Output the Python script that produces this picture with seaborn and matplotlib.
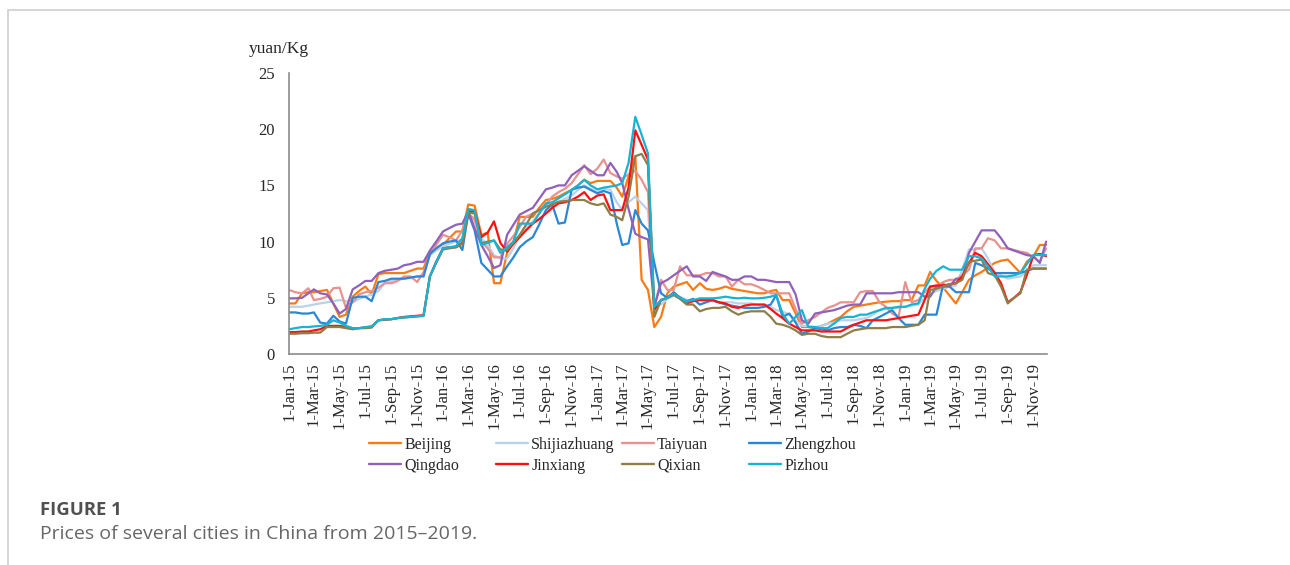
import datetime as dt
import matplotlib
matplotlib.use("Agg")
import matplotlib.pyplot as plt
from matplotlib.lines import Line2D
from matplotlib.patches import Rectangle
import seaborn as sns
import pandas as pd

# ---------------- data (semi-monthly readings: 1st and 16th of each month) ----------------
cities = ["Beijing", "Shijiazhuang", "Taiyuan", "Zhengzhou",
          "Qingdao", "Jinxiang", "Qixian", "Pizhou"]
colors = ["#FA7A14", "#B9D2EC", "#E8928F", "#2B87D6",
          "#9061BC", "#FF1010", "#8E7E48", "#16B4D4"]

beijing = [
    4.5,4.5, 5.4,5.5, 5.5,5.6, 5.7,4.5, 3.3,3.5, 5.1,5.6, 6.0,5.3, 7.1,7.2, 7.2,7.2, 7.2,7.4, 7.6,7.6, 9.1,9.4,
    9.7,10.3, 10.9,10.9, 13.3,13.2, 10.6,10.8, 6.3,6.3, 9.0,10.0, 12.2,12.2, 12.2,13.0, 13.7,13.8, 14.0,14.3, 14.6,15.0, 15.5,15.2,
    15.4,15.4, 15.4,14.8, 14.0,15.8, 17.6,6.6, 5.7,2.4, 3.3,5.4, 6.0,6.2, 6.4,5.7, 6.3,5.8, 5.7,5.8, 6.0,5.8, 5.7,5.6,
    5.5,5.4, 5.4,5.6, 5.7,4.8, 4.8,3.6, 2.4,2.4, 2.3,2.5, 2.7,3.0, 3.3,3.8, 4.2,4.3, 4.4,4.5, 4.6,4.65, 4.7,4.7,
    4.8,4.8, 6.1,6.1, 7.3,6.5, 5.9,5.2, 4.5,5.5, 6.6,7.0, 7.3,7.7, 8.1,8.3, 8.4,7.8, 7.2,8.2, 8.7,9.7, 9.7]
shijiazhuang = [
    4.2,4.2, 4.2,4.3, 4.4,4.5, 4.6,4.7, 4.8,4.7, 4.6,4.9, 5.1,5.3, 5.6,6.3, 6.5,6.6, 6.7,6.8, 6.9,7.0, 8.8,9.2,
    9.6,9.8, 10.0,10.2, 12.3,11.8, 10.3,9.7, 8.8,8.5, 8.5,9.4, 10.5,11.2, 11.8,12.5, 13.2,13.4, 13.5,13.8, 14.1,14.6, 15.0,14.7,
    14.4,14.7, 14.6,13.5, 12.8,13.5, 14.0,13.4, 12.8,4.5, 4.4,4.9, 5.2,5.1, 4.8,4.8, 4.8,4.7, 4.7,4.6, 4.6,4.6, 4.5,4.5,
    4.5,4.4, 4.4,4.2, 3.9,3.8, 3.5,3.0, 2.5,2.5, 2.4,2.5, 2.7,2.8, 3.0,3.0, 3.0,3.1, 3.2,3.5, 3.9,4.0, 4.1,4.1,
    4.2,4.3, 4.4,5.0, 5.4,5.6, 5.8,6.0, 6.1,7.5, 9.3,9.3, 9.4,8.5, 7.3,7.0, 6.7,6.8, 6.9,7.3, 7.9,7.9, 7.9]
taiyuan = [
    5.7,5.5, 5.4,5.85, 4.8,4.9, 5.1,5.85, 5.9,4.1, 4.6,5.3, 5.5,5.6, 5.9,6.3, 6.3,6.5, 6.9,6.9, 6.4,7.3, 8.8,9.7,
    10.6,10.4, 10.1,11.0, 12.5,12.0, 10.0,9.4, 8.6,8.6, 9.8,10.5, 11.3,12.2, 12.5,12.8, 13.3,14.0, 14.4,14.7, 15.2,16.0, 16.8,16.0,
    16.5,17.3, 16.1,15.8, 15.6,16.0, 16.3,15.5, 14.4,4.2, 6.6,5.7, 5.7,7.8, 7.0,7.0, 7.0,7.2, 7.2,6.9, 6.9,6.0, 6.6,6.2,
    6.2,6.0, 5.7,5.4, 5.4,5.4, 5.4,4.0, 2.7,3.0, 3.3,3.7, 4.1,4.3, 4.6,4.6, 4.6,5.5, 5.6,5.6, 4.6,4.2, 3.6,3.3,
    6.4,4.6, 4.8,5.5, 6.0,6.0, 6.4,6.6, 6.6,7.0, 7.5,9.4, 9.4,10.3, 10.1,9.4, 9.4,9.25, 9.1,9.0, 8.6,8.2, 9.4]
zhengzhou = [
    3.7,3.7, 3.6,3.6, 3.7,2.8, 2.7,3.4, 2.9,2.7, 5.0,5.1, 5.1,4.7, 6.4,6.5, 6.7,6.7, 6.7,6.8, 6.9,6.9, 8.9,9.4,
    9.85,10.0, 10.1,9.25, 12.5,11.0, 8.1,7.5, 6.9,6.9, 7.8,8.6, 9.5,10.0, 10.4,11.5, 12.8,13.3, 11.6,11.7, 14.6,14.8, 14.9,14.6,
    14.3,14.5, 14.3,11.6, 9.7,9.85, 12.8,11.6, 11.0,8.1, 5.4,5.0, 5.5,5.0, 4.7,4.9, 4.4,4.6, 4.8,4.6, 4.4,4.3, 4.2,4.1,
    4.1,4.1, 4.2,4.4, 5.25,3.3, 3.6,2.8, 1.8,2.0, 2.3,2.2, 2.1,2.3, 2.4,2.4, 2.6,2.5, 2.3,3.0, 3.3,3.6, 3.9,3.2,
    2.6,2.6, 2.6,3.5, 3.5,3.5, 6.2,6.0, 5.5,5.5, 5.5,8.1, 7.9,7.6, 7.2,7.2, 7.2,7.2, 7.2,7.4, 7.6,7.6, 7.6]
qingdao = [
    4.95,4.95, 5.0,5.4, 5.75,5.4, 5.3,4.5, 3.6,4.0, 5.75,6.1, 6.5,6.5, 7.2,7.4, 7.5,7.6, 7.9,8.0, 8.2,8.2, 9.2,10.0,
    10.9,11.2, 11.5,11.6, 12.7,11.2, 9.7,8.7, 7.65,7.9, 10.6,11.5, 12.4,12.7, 13.0,13.8, 14.65,14.8, 15.0,15.0, 15.9,16.3, 16.7,16.3,
    15.9,15.9, 17.0,16.2, 15.2,12.9, 10.7,10.4, 10.2,4.2, 6.3,6.6, 7.0,7.4, 7.8,6.9, 6.9,6.5, 7.3,7.1, 6.9,6.6, 6.6,6.9,
    6.9,6.6, 6.6,6.5, 6.4,6.4, 6.4,5.3, 3.0,2.7, 3.6,3.7, 3.8,3.9, 4.1,4.3, 4.4,4.4, 5.4,5.4, 5.4,5.4, 5.4,5.5,
    5.5,5.5, 5.5,5.1, 5.1,6.0, 6.0,6.0, 6.7,6.7, 9.0,10.0, 11.0,11.0, 11.0,10.3, 9.4,9.2, 9.0,8.8, 8.7,8.1, 10.0]
jinxiang = [
    1.95,1.95, 2.0,2.0, 2.1,2.2, 2.5,2.5, 2.5,2.4, 2.3,2.3, 2.35,2.45, 3.0,3.05, 3.1,3.2, 3.3,3.35, 3.4,3.45, 6.9,8.2,
    9.4,9.5, 9.5,9.9, 12.7,12.7, 10.4,10.8, 11.8,9.9, 9.1,9.8, 10.4,11.0, 11.6,12.0, 12.5,13.0, 13.4,13.5, 13.7,14.0, 14.4,13.7,
    14.1,14.2, 12.8,12.8, 12.8,14.8, 19.9,18.6, 17.3,3.9, 4.8,5.0, 5.4,5.0, 4.5,4.7, 4.8,4.8, 4.8,4.6, 4.5,4.2, 4.1,4.3,
    4.4,4.4, 4.4,4.0, 3.6,3.2, 2.7,2.4, 2.1,2.1, 2.1,2.0, 2.0,2.0, 2.0,2.3, 2.6,2.8, 3.0,3.0, 3.0,3.0, 3.1,3.2,
    3.3,3.4, 3.5,4.8, 6.0,6.1, 6.1,6.2, 6.3,6.9, 8.1,9.0, 8.7,8.0, 7.2,6.3, 4.6,5.0, 5.5,7.0, 8.8,8.9, 8.7]
qixian = [
    1.8,1.8, 1.85,1.85, 1.9,1.9, 2.4,2.4, 2.4,2.3, 2.2,2.3, 2.3,2.35, 3.0,3.05, 3.1,3.2, 3.25,3.3, 3.35,3.4, 6.9,8.1,
    9.3,9.4, 9.5,9.8, 12.6,12.5, 9.85,10.0, 10.1,9.3, 9.25,9.9, 10.6,11.5, 12.5,12.8, 13.1,13.3, 13.55,13.6, 13.7,13.7, 13.7,13.4,
    13.25,13.4, 12.4,12.2, 11.9,14.0, 17.6,17.8, 16.8,3.3, 4.8,5.0, 5.25,4.9, 4.4,4.4, 3.8,4.0, 4.1,4.1, 4.2,3.8, 3.5,3.7,
    3.8,3.8, 3.8,3.3, 2.7,2.6, 2.4,2.1, 1.7,1.8, 1.8,1.6, 1.5,1.5, 1.5,1.8, 2.1,2.2, 2.3,2.3, 2.3,2.3, 2.4,2.4,
    2.4,2.5, 2.6,3.0, 5.7,5.8, 6.0,6.2, 6.3,6.6, 8.2,8.3, 8.4,7.2, 7.0,6.0, 4.5,5.0, 5.4,7.5, 7.6,7.6, 7.6]
pizhou = [
    2.2,2.3, 2.4,2.4, 2.45,2.5, 2.6,3.0, 2.8,2.5, 2.3,2.3, 2.4,2.45, 3.0,3.1, 3.1,3.2, 3.25,3.3, 3.35,3.4, 6.9,8.2,
    9.4,9.5, 9.6,10.3, 12.9,12.8, 9.7,9.9, 10.1,9.0, 9.5,10.0, 11.6,11.6, 11.6,12.5, 13.4,13.5, 13.85,14.2, 14.6,15.0, 15.5,15.0,
    14.65,14.8, 14.9,15.0, 15.2,17.0, 21.1,19.5, 17.85,4.2, 4.8,5.0, 5.4,5.0, 4.65,4.8, 4.95,4.95, 4.95,5.0, 5.1,5.0, 4.95,5.0,
    4.95,4.95, 5.0,5.1, 5.25,3.6, 2.7,3.3, 3.9,2.4, 2.4,2.3, 2.3,2.7, 3.2,3.3, 3.3,3.5, 3.5,3.7, 3.9,4.1, 4.1,4.2,
    4.2,4.4, 4.5,5.8, 6.7,7.4, 7.8,7.5, 7.5,7.5, 8.7,8.7, 8.5,7.8, 6.9,6.9, 6.9,7.0, 7.2,8.0, 8.8,8.8, 8.8]

series = [beijing, shijiazhuang, taiyuan, zhengzhou, qingdao, jinxiang, qixian, pizhou]

dates = []
for yr in range(2015, 2020):
    for mo in range(1, 13):
        for dd in (1, 16):
            if yr == 2019 and mo == 12 and dd == 16:
                continue
            dates.append(dt.datetime(yr, mo, dd))

tick_dates = [dt.datetime(yr, mo, 1) for yr in range(2015, 2020) for mo in (1, 3, 5, 7, 9, 11)]
tick_labels = [f"1-{d:%b}-{d:%y}" for d in tick_dates]

rows = []
for city, vals in zip(cities, series):
    for d, v in zip(dates, vals):
        rows.append((d, v, city))
df = pd.DataFrame(rows, columns=["date", "price", "city"])

# ---------------- figure ----------------
sns.set_style("white")
plt.rcParams["font.family"] = ["Liberation Serif", "DejaVu Serif"]

W, H = 1290, 565
fig = plt.figure(figsize=(W / 100, H / 100), dpi=100)
fig.patches.append(Rectangle((8 / W, -0.2), 1.2, (1 - 10 / H) + 0.2, transform=fig.transFigure,
                             fill=False, edgecolor="#d2d2d2", linewidth=1.3))

ax = fig.add_axes([289 / W, 1 - 354 / H, 758 / W, 281 / H])
palette = dict(zip(cities, colors))
sns.lineplot(data=df, x="date", y="price", hue="city", hue_order=cities,
             palette=palette, linewidth=1.6, ax=ax, legend=False, estimator=None)

ax.set_xlim(dt.datetime(2015, 1, 1), dt.datetime(2019, 12, 3))
ax.set_ylim(0, 25)
ax.set_yticks([0, 5, 10, 15, 20, 25])
ax.set_xticks(tick_dates)
ax.set_xticklabels(tick_labels, rotation=90, fontsize=12)
ax.tick_params(axis="y", labelsize=12, direction="in", length=4, width=1, color="#8c8c8c", pad=10)
ax.tick_params(axis="x", direction="in", length=4, width=1, color="#8c8c8c", pad=6)
ax.set_xlabel("")
ax.set_ylabel("")
for s in ("top", "right"):
    ax.spines[s].set_visible(False)
for s in ("left", "bottom"):
    ax.spines[s].set_color("#8c8c8c")
    ax.spines[s].set_linewidth(1.2)

fig.text(279 / W, 1 - 49 / H, "yuan/Kg", ha="center", va="center", fontsize=12.5)

# legend: four columns, two rows (row-major order like the original)
handles = {c: Line2D([0], [0], color=palette[c], lw=1.7) for c in cities}
col_x = [369, 496, 622, 749]
for i, x in enumerate(col_x):
    pair = [cities[i], cities[i + 4]]
    fig.legend([handles[c] for c in pair], pair, loc="upper left",
               bbox_to_anchor=(x / W, 1 - 437 / H), frameon=False, fontsize=11.5,
               handlelength=2.0, handletextpad=0.2, borderpad=0, borderaxespad=0,
               labelspacing=0.3)

fig.text(40 / W, 1 - 510 / H, "FIGURE 1", ha="left", va="center", fontsize=13.3,
         fontweight="bold", color="#505050", family=["Open Sans", "DejaVu Sans"])
fig.text(40 / W, 1 - 534 / H, "Prices of several cities in China from 2015\u20132019.",
         ha="left", va="center", fontsize=14, color="#666666", family=["Open Sans", "DejaVu Sans"])

fig.savefig("out.png", dpi=100)
